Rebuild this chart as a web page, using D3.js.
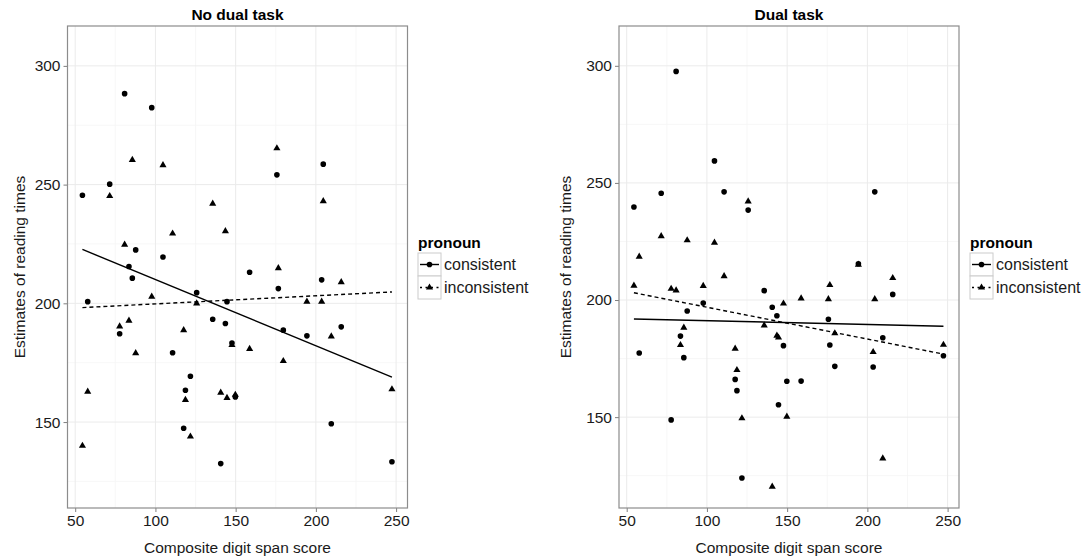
<!DOCTYPE html>
<html>
<head>
<meta charset="utf-8">
<script src="https://cdn.jsdelivr.net/npm/d3@7"></script>
<style>
  body { margin: 0; background: #fff; }
  svg { display: block; font-family: "Liberation Sans", Arial, sans-serif; }
</style>
</head>
<body>
<div id="chart"></div>
<script>
// digit span score of each participant (shared by all series)
const spanScore = [54.5, 57.8, 71.5, 77.7, 80.8, 83.5, 85.6, 87.7, 97.7, 104.7, 110.7,
  117.6, 118.7, 121.8, 125.7, 135.7, 140.7, 143.6, 144.6, 147.7, 149.8, 158.7,
  175.7, 176.6, 179.7, 194.4, 203.6, 204.6, 209.6, 215.8, 247.4];

// reading time estimates, same order as spanScore
const noDualConsistent = [245.5, 200.7, 250.2, 187.2, 288.3, 215.5, 210.6, 222.5, 282.4, 219.5, 179.2,
  147.4, 163.4, 169.3, 204.5, 193.3, 132.5, 191.5, 200.7, 183.3, 160.6, 213.1,
  254.1, 206.2, 188.7, 186.3, 209.9, 258.6, 149.3, 190.1, 133.3];
const noDualInconsistent = [140.0, 162.8, 245.2, 190.3, 224.7, 192.7, 260.4, 179.0, 202.8, 258.2, 229.4,
  188.7, 159.3, 143.9, 200.0, 242.0, 162.4, 230.4, 160.2, 182.5, 161.5, 180.8,
  265.3, 214.8, 175.7, 200.7, 200.7, 243.0, 186.1, 208.9, 163.8];
const dualConsistent = [239.7, 177.4, 245.6, 148.8, 297.6, 184.6, 175.4, 195.3, 198.7, 259.4, 246.2,
  166.1, 161.3, 124.0, 238.4, 204.0, 196.9, 193.3, 155.3, 180.5, 165.3, 165.4,
  191.8, 180.8, 171.7, 215.5, 171.4, 246.2, 183.9, 202.4, 176.2];
const dualInconsistent = [206.1, 218.5, 227.3, 204.8, 204.1, 180.8, 188.2, 225.5, 206.0, 224.5, 210.2,
  179.2, 170.1, 149.5, 242.1, 189.2, 120.3, 184.8, 184.0, 198.5, 150.2, 200.7,
  200.4, 206.4, 185.8, 215.1, 177.8, 200.4, 132.4, 209.4, 180.9];

// fitted lines, read at the two ends of the score range
const fitEnds = [54.5, 247.4];
const noDualFitConsistent = [222.7, 168.9];
const noDualFitInconsistent = [198.2, 204.8];
const dualFitConsistent = [191.9, 188.8];
const dualFitInconsistent = [203.1, 176.9];

const panelTitles = ["No dual task", "Dual task"];
const seriesNames = ["consistent", "inconsistent"];
const xTicks = [50, 100, 150, 200, 250];
const xMinor = [75, 125, 175, 225];
const yTicks = [150, 200, 250, 300];
const yMinor = [125, 175, 225, 275];

const width = 1085, height = 559;
const plotTop = 26, plotBottom = 508;
const fontSize = "15.5px";

const svg = d3.select("#chart")
  .append("svg")
  .attr("width", width)
  .attr("height", height);

const panels = [
  { title: panelTitles[0], x0: 67.5, x1: 407.5, yDomain: [113.8, 316.8], yTitleX: 20, legendX: 418,
    series: [noDualConsistent, noDualInconsistent], fits: [noDualFitConsistent, noDualFitInconsistent] },
  { title: panelTitles[1], x0: 619, x1: 959, yDomain: [111.2, 317.0], yTitleX: 566, legendX: 970,
    series: [dualConsistent, dualInconsistent], fits: [dualFitConsistent, dualFitInconsistent] }
];

const circle = d3.symbol().type(d3.symbolCircle).size(25);
const triangle = d3.symbol().type(d3.symbolTriangle).size(22);
const shapes = [circle, triangle];
const dashes = [null, "4,3"];

panels.forEach(p => {
  const x = d3.scaleLinear().domain([45.2, 257.1]).range([p.x0, p.x1]);
  const y = d3.scaleLinear().domain(p.yDomain).range([plotBottom, plotTop]);
  const g = svg.append("g");

  // background grid
  g.selectAll(".minorx").data(xMinor).join("line")
    .attr("x1", d => x(d)).attr("x2", d => x(d))
    .attr("y1", plotTop).attr("y2", plotBottom)
    .attr("stroke", "#f5f5f5").attr("stroke-width", 0.8);
  g.selectAll(".minory").data(yMinor).join("line")
    .attr("x1", p.x0).attr("x2", p.x1)
    .attr("y1", d => y(d)).attr("y2", d => y(d))
    .attr("stroke", "#f5f5f5").attr("stroke-width", 0.8);
  g.selectAll(".majorx").data(xTicks).join("line")
    .attr("x1", d => x(d)).attr("x2", d => x(d))
    .attr("y1", plotTop).attr("y2", plotBottom)
    .attr("stroke", "#ebebeb").attr("stroke-width", 1);
  g.selectAll(".majory").data(yTicks).join("line")
    .attr("x1", p.x0).attr("x2", p.x1)
    .attr("y1", d => y(d)).attr("y2", d => y(d))
    .attr("stroke", "#ebebeb").attr("stroke-width", 1);

  // axes
  const xAxis = g.append("g")
    .attr("transform", `translate(0,${plotBottom})`)
    .call(d3.axisBottom(x).tickValues(xTicks).tickSize(4).tickPadding(3));
  const yAxis = g.append("g")
    .attr("transform", `translate(${p.x0},0)`)
    .call(d3.axisLeft(y).tickValues(yTicks).tickSize(4).tickPadding(3));
  [xAxis, yAxis].forEach(a => {
    a.select(".domain").remove();
    a.selectAll(".tick line").attr("stroke", "#7f7f7f");
    a.selectAll(".tick text").attr("fill", "#1a1a1a").style("font-size", fontSize);
  });

  // panel border
  g.append("rect")
    .attr("x", p.x0).attr("y", plotTop)
    .attr("width", p.x1 - p.x0).attr("height", plotBottom - plotTop)
    .attr("fill", "none").attr("stroke", "#8c8c8c").attr("stroke-width", 1.2);

  // points
  p.series.forEach((vals, si) => {
    g.selectAll(".pt" + si).data(vals).join("path")
      .attr("class", "pt" + si)
      .attr("d", shapes[si])
      .attr("transform", (d, i) => `translate(${x(spanScore[i])},${y(d)})`)
      .attr("fill", "#000");
  });

  // fit lines
  p.fits.forEach((f, si) => {
    g.append("line")
      .attr("x1", x(fitEnds[0])).attr("y1", y(f[0]))
      .attr("x2", x(fitEnds[1])).attr("y2", y(f[1]))
      .attr("stroke", "#000").attr("stroke-width", 1.4)
      .attr("stroke-dasharray", dashes[si]);
  });

  // titles
  g.append("text")
    .attr("x", (p.x0 + p.x1) / 2).attr("y", 20)
    .attr("text-anchor", "middle")
    .style("font-size", fontSize).style("font-weight", "bold")
    .text(p.title);
  g.append("text")
    .attr("x", (p.x0 + p.x1) / 2).attr("y", 553)
    .attr("text-anchor", "middle")
    .style("font-size", fontSize)
    .attr("fill", "#1a1a1a")
    .text("Composite digit span score");
  g.append("text")
    .attr("transform", `translate(${p.yTitleX},${(plotTop + plotBottom) / 2}) rotate(-90)`)
    .attr("text-anchor", "middle")
    .attr("dy", "0.35em")
    .style("font-size", fontSize)
    .attr("fill", "#1a1a1a")
    .text("Estimates of reading times");

  // legend
  const lg = svg.append("g").attr("transform", `translate(${p.legendX},0)`);
  lg.append("text")
    .attr("x", 0).attr("y", 248)
    .style("font-size", fontSize).style("font-weight", "bold")
    .text("pronoun");
  seriesNames.forEach((name, si) => {
    const ky = 253 + si * 23;
    lg.append("rect")
      .attr("x", 0).attr("y", ky).attr("width", 23).attr("height", 23)
      .attr("fill", "#fff").attr("stroke", "#cccccc").attr("stroke-width", 1);
    lg.append("line")
      .attr("x1", 2).attr("x2", 21).attr("y1", ky + 11.5).attr("y2", ky + 11.5)
      .attr("stroke", "#000").attr("stroke-width", 1.4)
      .attr("stroke-dasharray", si ? "2,3.5" : null);
    lg.append("path")
      .attr("d", shapes[si])
      .attr("transform", `translate(11.5,${ky + 11.5})`)
      .attr("fill", "#000");
    lg.append("text")
      .attr("x", 26).attr("y", ky + 11.5)
      .attr("dy", "0.35em")
      .style("font-size", "16px")
      .attr("fill", "#1a1a1a")
      .text(name);
  });
});
</script>
</body>
</html>
